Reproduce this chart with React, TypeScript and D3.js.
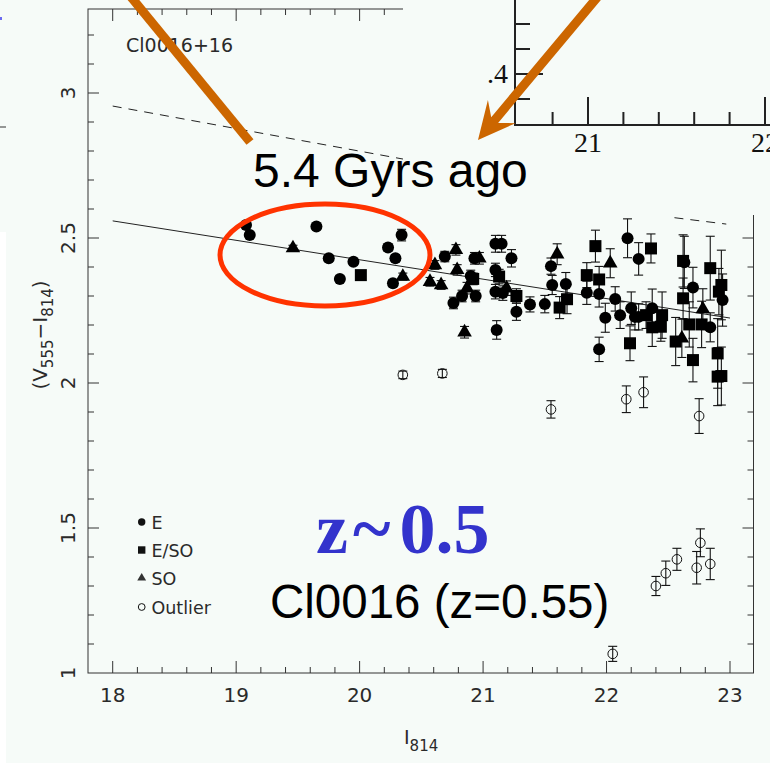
import React from 'react';
import * as d3 from 'd3';

const W = 770;
const H = 763;

// [I814 magnitude, V555-I814 colour, 1-sigma colour error]
type Pt = [number, number, number];

const ellipticals: Pt[] = [
  [19.08, 2.545, 0.01], [19.11, 2.51, 0.01], [19.65, 2.54, 0.01], [19.75, 2.43, 0.01],
  [19.95, 2.418, 0.01], [19.84, 2.359, 0.01], [20.23, 2.467, 0.012], [20.34, 2.51, 0.02],
  [20.29, 2.43, 0.012], [20.27, 2.344, 0.012], [20.69, 2.436, 0.018], [20.93, 2.43, 0.02],
  [20.9, 2.369, 0.02], [20.83, 2.3, 0.02], [20.94, 2.3, 0.02], [20.76, 2.276, 0.02],
  [21.1, 2.48, 0.029], [21.15, 2.48, 0.029], [21.1, 2.39, 0.023], [21.1, 2.315, 0.025],
  [21.16, 2.31, 0.025], [21.11, 2.183, 0.032], [21.23, 2.43, 0.03], [21.27, 2.246, 0.03],
  [21.38, 2.271, 0.026], [21.5, 2.272, 0.03], [21.55, 2.403, 0.028], [21.56, 2.338, 0.033],
  [21.67, 2.341, 0.04], [21.84, 2.311, 0.04], [21.94, 2.307, 0.045], [22.07, 2.29, 0.042],
  [21.99, 2.225, 0.05], [22.11, 2.234, 0.046], [22.2, 2.258, 0.056], [22.23, 2.228, 0.045],
  [22.26, 2.228, 0.045], [22.37, 2.258, 0.066], [21.94, 2.116, 0.042], [22.17, 2.499, 0.067],
  [22.26, 2.428, 0.056], [22.63, 2.416, 0.09], [22.7, 2.329, 0.07], [22.84, 2.192, 0.05],
  [22.94, 2.286, 0.09],
];

const transitionals: Pt[] = [
  [20.01, 2.372, 0.01], [20.92, 2.359, 0.02], [21.13, 2.367, 0.025], [21.27, 2.3, 0.025],
  [21.62, 2.26, 0.038], [21.68, 2.289, 0.05], [21.84, 2.372, 0.043], [21.91, 2.472, 0.055],
  [21.94, 2.357, 0.045], [22.36, 2.464, 0.05], [22.32, 2.234, 0.046], [22.45, 2.234, 0.08],
  [22.37, 2.192, 0.066], [22.44, 2.194, 0.05], [22.19, 2.137, 0.06], [22.62, 2.421, 0.09],
  [22.62, 2.292, 0.07], [22.67, 2.202, 0.078], [22.77, 2.202, 0.08], [22.84, 2.396, 0.11],
  [22.93, 2.338, 0.12], [22.91, 2.315, 0.08], [22.56, 2.143, 0.083], [22.7, 2.079, 0.075],
  [22.9, 2.102, 0.12], [22.9, 2.022, 0.1], [22.93, 2.024, 0.1],
];

const lenticulars: Pt[] = [
  [19.46, 2.465, 0.01], [20.35, 2.367, 0.012], [20.61, 2.407, 0.015], [20.78, 2.459, 0.018],
  [20.79, 2.39, 0.018], [20.57, 2.349, 0.015], [20.66, 2.338, 0.015], [20.97, 2.43, 0.02],
  [20.87, 2.327, 0.02], [20.85, 2.175, 0.02], [21.19, 2.327, 0.025], [21.6, 2.444, 0.036],
  [22.03, 2.413, 0.05], [22.78, 2.255, 0.07], [22.61, 2.154, 0.066],
];

const outliers: Pt[] = [
  [20.35, 2.028, 0.013], [20.67, 2.033, 0.014], [21.55, 1.909, 0.03], [22.16, 1.944, 0.046],
  [22.3, 1.968, 0.053], [22.75, 1.886, 0.06], [22.4, 1.3, 0.033], [22.48, 1.344, 0.042],
  [22.57, 1.392, 0.038], [22.73, 1.363, 0.056], [22.76, 1.449, 0.048], [22.84, 1.376, 0.054],
  [22.05, 1.066, 0.026],
];

// colour-magnitude relation fit and the model track (drawn dashed)
const fitLine: [number, number][] = [[18, 2.559], [23, 2.224]];
const modelTrackA: [number, number][] = [[18, 2.955], [20.38, 2.77]];
const modelTrackB: [number, number][] = [[22.55, 2.57], [22.97, 2.548]];

const xTickValues = [18, 19, 20, 21, 22, 23];
const xTickLabels = ['18', '19', '20', '21', '22', '23'];
const yTickValues = [1, 1.5, 2, 2.5, 3];
const yTickLabels = ['1', '1.5', '2', '2.5', '3'];
const legendLabels = ['E', 'E/SO', 'SO', 'Outlier'];

const insetXTicks = [21, 22];
const insetXLabels = ['21', '22'];
const insetYTicks = [0.4];
const insetYLabels = ['.4'];

const HERSHEY = '"DejaVu Sans", "Liberation Sans", sans-serif';

export default function App() {
  // plot frame in pixels
  const left = 88, right = 753.5, top = 9, bottom = 673;
  const x = d3.scaleLinear().domain([18, 23]).range([112.7, 730]);
  const y = d3.scaleLinear().domain([1, 3]).range([673, 93]);

  const line = d3.line<[number, number]>().x(d => x(d[0])).y(d => y(d[1]));

  const xMinor = d3.range(18, 23.01, 0.2).map(v => +v.toFixed(2));
  const yMinor = d3.range(1.1, 3.29, 0.1).map(v => +v.toFixed(2));
  const isMajorX = (v: number) => Math.abs(v - Math.round(v)) < 1e-6;
  const isMajorY = (v: number) => Math.abs(v * 2 - Math.round(v * 2)) < 1e-6;

  const triangle = d3.symbol(d3.symbolTriangle, 92)();
  const triangleSmall = d3.symbol(d3.symbolTriangle, 34)();

  const errBar = (p: Pt, i: number, key: string) => {
    const cx = x(p[0]);
    const y1 = y(p[1] + p[2]);
    const y2 = y(p[1] - p[2]);
    return (
      <g key={key + i} stroke="#111" strokeWidth={1.1}>
        <line x1={cx} x2={cx} y1={y1} y2={y2} />
        <line x1={cx - 4.5} x2={cx + 4.5} y1={y1} y2={y1} />
        <line x1={cx - 4.5} x2={cx + 4.5} y1={y2} y2={y2} />
      </g>
    );
  };

  // inset axes (upper right)
  const xi = d3.scaleLinear().domain([21, 22]).range([588, 765]);
  const yi = d3.scaleLinear().domain([0.3, 0.4]).range([199, 74]);
  const insetXMinor = d3.range(20.8, 22.01, 0.2).map(v => +v.toFixed(2));
  const insetYMinor = [0.38, 0.4, 0.42, 0.44, 0.46];

  // arrow pointing down-left toward the label
  const tip = [478, 140];
  const u = [0.641, -0.767];
  const n = [0.767, 0.641];
  const P = (a: number, b: number) => [tip[0] + a * u[0] + b * n[0], tip[1] + a * u[1] + b * n[1]];
  const arrowPts = [
    P(0, 0), P(37, -18), P(26, -4.5), P(200, -4.5), P(200, 4.5), P(26, 4.5), P(37, 18),
  ].map(p => p.join(',')).join(' ');

  const legendY = [522, 550, 578, 607];

  return (
    <svg width={W} height={H} style={{ position: 'absolute', left: 0, top: 0, display: 'block' }}
      xmlns="http://www.w3.org/2000/svg">
      <rect x={0} y={0} width={W} height={H} fill="#f6fbf8" />
      <rect x={0} y={232} width={6} height={H - 232} fill="#ffffff" />
      <line x1={0} x2={6} y1={127} y2={127} stroke="#333" strokeWidth={1} />
      <rect x={0} y={17} width={2} height={3} fill="#6a6af0" />

      {/* frame */}
      <rect x={left} y={top} width={right - left} height={bottom - top} fill="none" stroke="#333" strokeWidth={1} />

      {/* ticks on all four sides, pointing inward */}
      <g stroke="#333" strokeWidth={1}>
        {xMinor.map(v => {
          const L = isMajorX(v) ? 12 : 6;
          return (
            <g key={'xt' + v}>
              <line x1={x(v)} x2={x(v)} y1={bottom} y2={bottom - L} />
              <line x1={x(v)} x2={x(v)} y1={top} y2={top + L} />
            </g>
          );
        })}
        {yMinor.map(v => {
          const L = isMajorY(v) ? 11 : 6;
          return (
            <g key={'yt' + v}>
              <line x1={left} x2={left + L} y1={y(v)} y2={y(v)} />
              <line x1={right} x2={right - L} y1={y(v)} y2={y(v)} />
            </g>
          );
        })}
      </g>

      {/* tick labels */}
      <g fontFamily={HERSHEY} fontSize={20} fill="#2a2a2a">
        {xTickValues.map((v, i) => (
          <text key={'xl' + v} x={x(v)} y={702} textAnchor="middle">{xTickLabels[i]}</text>
        ))}
        {yTickValues.map((v, i) => (
          <text key={'yl' + v} transform={`translate(75,${y(v)}) rotate(-90)`} textAnchor="middle">{yTickLabels[i]}</text>
        ))}
      </g>

      {/* axis titles */}
      <text x={404} y={744} fontFamily={HERSHEY} fontSize={19} fill="#2a2a2a">
        I<tspan fontSize={15} dy={7}>814</tspan>
      </text>
      <text transform="translate(47,335) rotate(-90)" textAnchor="middle" fontFamily={HERSHEY} fontSize={20} fill="#2a2a2a">
        (V<tspan fontSize={15} dy={6}>555</tspan><tspan dy={-6}>−I</tspan><tspan fontSize={15} dy={6}>814</tspan><tspan dy={-6}>)</tspan>
      </text>

      <text x={126} y={52} fontFamily={HERSHEY} fontSize={19} fill="#2a2a2a">Cl0016+16</text>

      {/* model track and fitted relation */}
      <g fill="none" stroke="#222" strokeWidth={1}>
        <path d={line(modelTrackA) || ''} strokeDasharray="9 7" />
        <path d={line(modelTrackB) || ''} strokeDasharray="9 7" />
        <path d={line(fitLine) || ''} />
      </g>

      {/* error bars */}
      {outliers.map((p, i) => errBar(p, i, 'eo'))}
      {ellipticals.map((p, i) => errBar(p, i, 'ee'))}
      {transitionals.map((p, i) => errBar(p, i, 'es'))}
      {lenticulars.map((p, i) => errBar(p, i, 'el'))}

      {/* markers */}
      {outliers.map((p, i) => (
        <circle key={'o' + i} cx={x(p[0])} cy={y(p[1])} r={4.8} fill="none" stroke="#111" strokeWidth={1} />
      ))}
      {ellipticals.map((p, i) => (
        <circle key={'c' + i} cx={x(p[0])} cy={y(p[1])} r={6} fill="#000" />
      ))}
      {transitionals.map((p, i) => (
        <rect key={'s' + i} x={x(p[0]) - 6} y={y(p[1]) - 6} width={12} height={12} fill="#000" />
      ))}
      {lenticulars.map((p, i) => (
        <path key={'t' + i} d={triangle || ''} transform={`translate(${x(p[0])},${y(p[1])})`} fill="#000" />
      ))}

      {/* legend */}
      <g fontFamily={HERSHEY} fontSize={17.5} fill="#2a2a2a">
        <circle cx={141.7} cy={legendY[0]} r={3.7} fill="#111" />
        <rect x={138} y={legendY[1] - 3.7} width={7.4} height={7.4} fill="#111" />
        <path d={triangleSmall || ''} transform={`translate(141.7,${legendY[2]})`} fill="#333" />
        <circle cx={141.7} cy={legendY[3]} r={3.4} fill="none" stroke="#111" strokeWidth={1} />
        {legendLabels.map((t, i) => (
          <text key={'lg' + i} x={151.5} y={legendY[i] + 7} >{t}</text>
        ))}
      </g>

      {/* pasted panel covering the upper right */}
      <rect x={403} y={0} width={W - 403} height={215} fill="#f6fbf8" />
      <g stroke="#222" strokeWidth={2} fill="none">
        <line x1={515} x2={515} y1={0} y2={126} />
        <line x1={514} x2={W} y1={125} y2={125} />
        {insetYMinor.map(v => (
          <line key={'iy' + v} x1={515} x2={515 + (v === 0.4 ? 28 : 15)} y1={yi(v)} y2={yi(v)} />
        ))}
        {insetXMinor.map(v => (
          <line key={'ix' + v} x1={xi(v)} x2={xi(v)} y1={125} y2={125 - (isMajorX(v) ? 28 : 13)} />
        ))}
      </g>
      <g fontFamily='"Liberation Serif", "Times New Roman", serif' fontSize={28} fill="#111">
        {insetXTicks.map((v, i) => (
          <text key={'ixl' + v} x={xi(v)} y={152} textAnchor="middle">{insetXLabels[i]}</text>
        ))}
        {insetYTicks.map((v, i) => (
          <text key={'iyl' + v} x={508} y={yi(v) + 9} textAnchor="end">{insetYLabels[i]}</text>
        ))}
      </g>

      {/* annotations */}
      <line x1={131} y1={-3} x2={250} y2={142} stroke="#cc6600" strokeWidth={9} />
      <polygon points={arrowPts} fill="#cc6600" />
      <ellipse cx={325} cy={255} rx={105} ry={51} fill="none" stroke="#ff3300" strokeWidth={5} />

      <text x={253} y={187} fontFamily='"Liberation Sans", Arial, sans-serif' fontSize={48} fill="#000">5.4 Gyrs ago</text>
      <text x={316} y={553} fontFamily='"Liberation Serif", "Times New Roman", serif' fontWeight="bold" fontSize={72} fill="#3333cc">
        z<tspan dx={5}>~</tspan><tspan dx={9}>0.5</tspan>
      </text>
      <text x={270} y={618} fontFamily='"Liberation Sans", Arial, sans-serif' fontSize={47.5} fill="#000">Cl0016 (z=0.55)</text>
    </svg>
  );
}
